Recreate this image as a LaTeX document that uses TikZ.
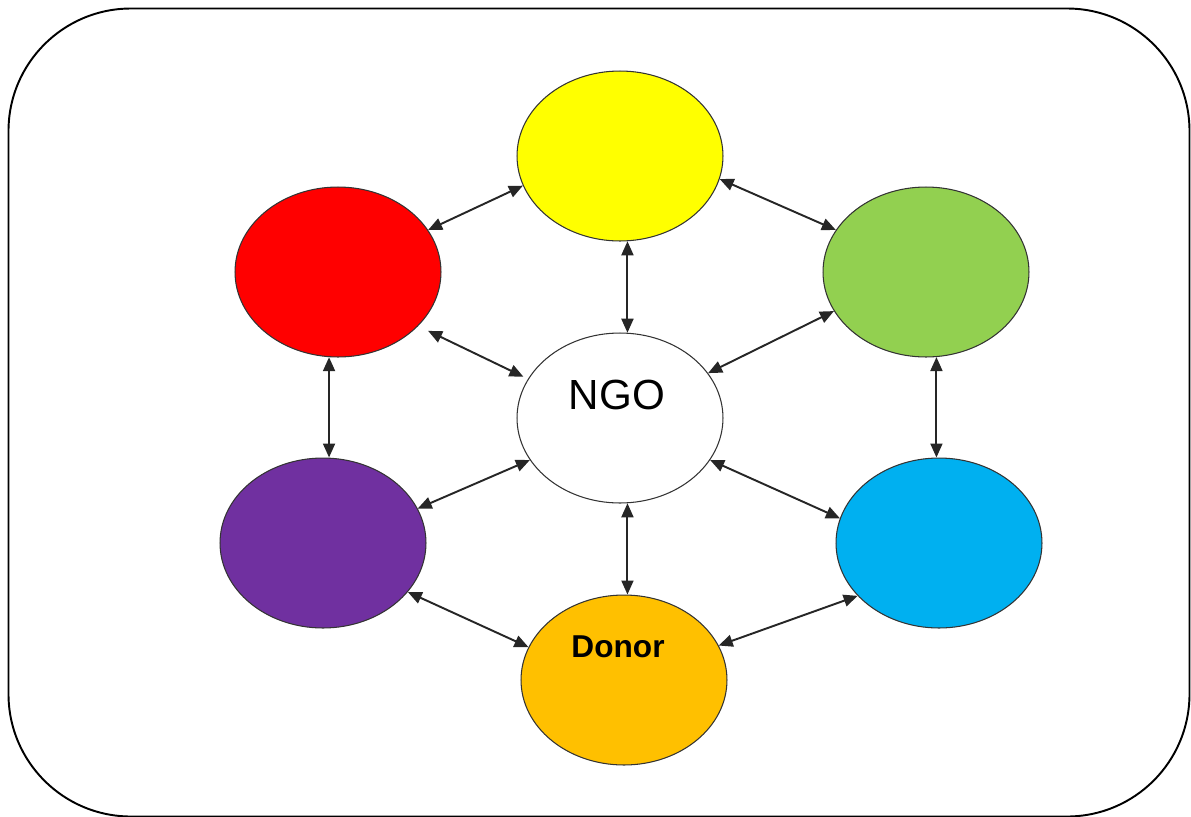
\documentclass[tikz,border=0pt]{standalone}
\usepackage{fontspec}
\setmainfont{Liberation Sans}
\usetikzlibrary{arrows.meta,shapes.geometric}
\definecolor{cyellow}{HTML}{FFFF00}
\definecolor{cred}{HTML}{FF0000}
\definecolor{cgreen}{HTML}{92D050}
\definecolor{cpurple}{HTML}{7030A0}
\definecolor{cblue}{HTML}{00B0F0}
\definecolor{corange}{HTML}{FFC000}
\tikzset{
  bubble/.style={ellipse, draw=black!80, line width=0.6pt, inner sep=0pt,
    minimum width=4.12cm, minimum height=3.4cm},
  tip/.tip={Triangle[length=0.28cm,width=0.24cm]},
  link/.style={line width=1.1pt, black!85, tip-tip},
  frame/.style={draw=black, line width=1.1pt, rounded corners=2.45cm}
}
\begin{document}
\begin{tikzpicture}[x=0.02cm,y=-0.02cm]
\useasboundingbox (0,0) rectangle (1191,816);
\draw[frame] (8.5,8.5) rectangle (1189.5,816.5);

\node[bubble, fill=cyellow] (yellow) at (620,156) {};
\node[bubble, fill=cred]    (red)    at (338,272) {};
\node[bubble, fill=cgreen]  (green)  at (926,272) {};
\node[bubble, fill=white]   (ngo)    at (620,418) {};
\node[bubble, fill=cpurple] (purple) at (323,543) {};
\node[bubble, fill=cblue]   (blue)   at (939,543) {};
\node[bubble, fill=corange] (donor)  at (624,680) {};

\node[font=\fontsize{24}{28}\selectfont] (ngolabel) at (617,395) {NGO};
\node[font=\fontsize{18}{22}\selectfont\bfseries] (donorlabel) at (618,647) {Donor};

\draw[link] (red.25) -- (yellow.197);
\draw[link] (yellow.-13) -- (green.155.5);
\draw[link] (yellow.-85) -- (ngo.85);
\draw[link, shorten <=0.22cm, shorten >=0.1cm] (red.-34) -- (ngo.157);
\draw[link] (green.203.4) -- (ngo.27.6);
\draw[link] (red.-96) -- (red.-96 |- purple.north);
\draw[link] (green.-83) -- (green.-83 |- blue.north);
\draw[link] (ngo.205.4) -- (purple.20.9);
\draw[link] (ngo.-25) -- (blue.166.6);
\draw[link] (ngo.-85) -- (ngo.-85 |- donor.north);
\draw[link] (purple.-30.9) -- (donor.161.2);
\draw[link] (donor.20) -- (blue.213.4);
\end{tikzpicture}
\end{document}
